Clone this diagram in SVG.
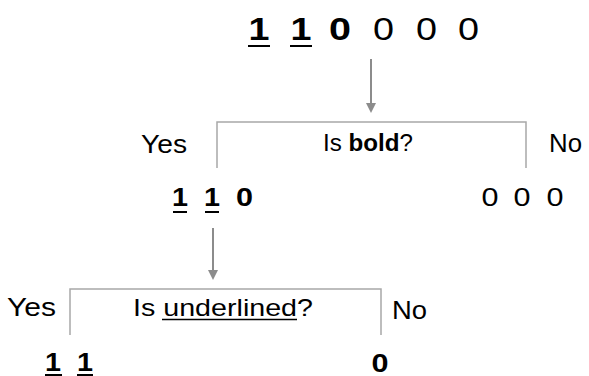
<svg xmlns="http://www.w3.org/2000/svg" width="589" height="376" viewBox="0 0 589 376">
  <style>
    text { font-family: "Liberation Sans", Arial, sans-serif; fill: #000; }
    .big { font-size: 31px; }
    .mid { font-size: 25px; }
    .lbl { font-size: 25px; }
    .q { font-size: 24px; }
    .b { font-weight: bold; }
    .ul { stroke: #000; stroke-width: 2; }
    .bracket { fill: none; stroke: #a8a8a8; stroke-width: 1.5; }
    .arrow { stroke: #8c8c8c; stroke-width: 2; marker-end: url(#head); }
  </style>
  <defs>
    <marker id="head" markerUnits="userSpaceOnUse" markerWidth="10" markerHeight="11" refX="5" refY="0" orient="auto" viewBox="0 -1 10 11" overflow="visible">
      <path d="M0,0 L10,0 L5,10 Z" fill="#8c8c8c" transform="rotate(-90 5 0)"/>
    </marker>
  </defs>

  <!-- root sequence -->
  <g id="root">
    <text class="big b" x="259" y="40" text-anchor="middle" textLength="21" lengthAdjust="spacingAndGlyphs">1</text>
    <text class="big b" x="301" y="40" text-anchor="middle" textLength="21" lengthAdjust="spacingAndGlyphs">1</text>
    <text class="big b" x="340" y="40" text-anchor="middle" textLength="22" lengthAdjust="spacingAndGlyphs">0</text>
    <text class="big" x="383.5" y="40" text-anchor="middle" textLength="21" lengthAdjust="spacingAndGlyphs">0</text>
    <text class="big" x="426.5" y="40" text-anchor="middle" textLength="21" lengthAdjust="spacingAndGlyphs">0</text>
    <text class="big" x="468.5" y="40" text-anchor="middle" textLength="21" lengthAdjust="spacingAndGlyphs">0</text>
    <line class="ul" x1="248" y1="46" x2="270" y2="46"/>
    <line class="ul" x1="290" y1="46" x2="312" y2="46"/>
  </g>

  <!-- first split: bold -->
  <g id="split-bold">
    <path class="bracket" d="M217,168 V122 H526 V168"/>
    <text class="q" x="323" y="151" textLength="90" lengthAdjust="spacingAndGlyphs">Is <tspan class="b">bold</tspan>?</text>
    <text class="lbl" x="141" y="153" textLength="46" lengthAdjust="spacingAndGlyphs">Yes</text>
    <text class="lbl" x="549" y="152" textLength="33" lengthAdjust="spacingAndGlyphs">No</text>
  </g>

  <!-- bold branch -->
  <g id="bold-set">
    <text class="mid b" x="180" y="206" text-anchor="middle" textLength="16" lengthAdjust="spacingAndGlyphs">1</text>
    <text class="mid b" x="212" y="206" text-anchor="middle" textLength="16" lengthAdjust="spacingAndGlyphs">1</text>
    <text class="mid b" x="244.5" y="206" text-anchor="middle" textLength="17" lengthAdjust="spacingAndGlyphs">0</text>
    <line class="ul" x1="173" y1="212" x2="187" y2="212"/>
    <line class="ul" x1="205" y1="212" x2="219" y2="212"/>
  </g>

  <!-- non-bold branch -->
  <g id="plain-set">
    <text class="mid" x="490" y="206" text-anchor="middle" textLength="17" lengthAdjust="spacingAndGlyphs">0</text>
    <text class="mid" x="522" y="206" text-anchor="middle" textLength="17" lengthAdjust="spacingAndGlyphs">0</text>
    <text class="mid" x="555" y="206" text-anchor="middle" textLength="17" lengthAdjust="spacingAndGlyphs">0</text>
  </g>

  <!-- second split: underlined -->
  <g id="split-underlined">
    <path class="bracket" d="M70,335 V289 H381 V335"/>
    <text class="q" x="133" y="316" textLength="180" lengthAdjust="spacingAndGlyphs">Is underlined?</text>
    <line stroke="#000" stroke-width="1.5" x1="162" y1="319.5" x2="297" y2="319.5"/>
    <text class="lbl" x="7" y="316" textLength="49" lengthAdjust="spacingAndGlyphs">Yes</text>
    <text class="lbl" x="392" y="319" textLength="35" lengthAdjust="spacingAndGlyphs">No</text>
  </g>

  <!-- underlined branch -->
  <g id="underlined-set">
    <text class="mid b" x="53" y="371" text-anchor="middle" textLength="16" lengthAdjust="spacingAndGlyphs">1</text>
    <text class="mid b" x="85" y="371" text-anchor="middle" textLength="16" lengthAdjust="spacingAndGlyphs">1</text>
    <line class="ul" x1="45" y1="375" x2="62" y2="375"/>
    <line class="ul" x1="77" y1="375" x2="93" y2="375"/>
  </g>

  <!-- plain branch -->
  <g id="not-underlined-set">
    <text class="mid b" x="380" y="372" text-anchor="middle" textLength="17" lengthAdjust="spacingAndGlyphs">0</text>
  </g>

  <!-- connectors -->
  <g id="connectors">
    <line class="arrow" x1="371" y1="59" x2="371" y2="103"/>
    <line class="arrow" x1="213" y1="228" x2="213" y2="270"/>
  </g>
</svg>
